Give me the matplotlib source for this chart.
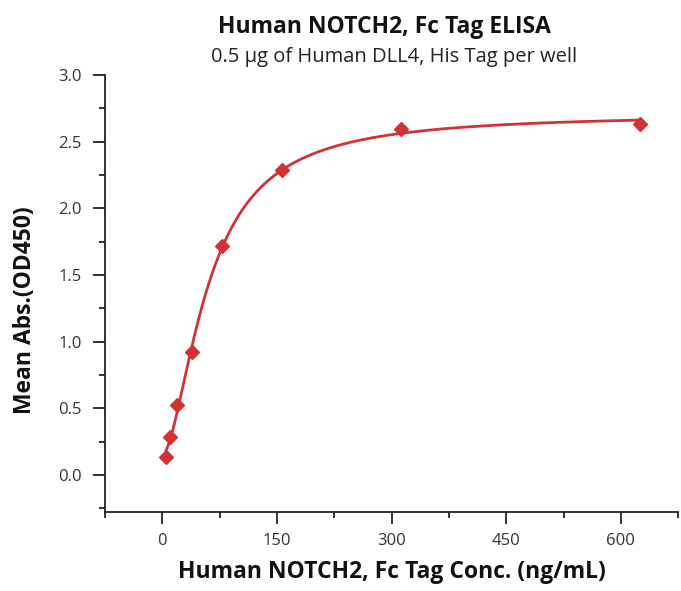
import numpy as np
import matplotlib
matplotlib.use("Agg")
import matplotlib.pyplot as plt
from matplotlib.ticker import MultipleLocator

title = "Human NOTCH2, Fc Tag ELISA"
subtitle = "0.5 \u03bcg of Human DLL4, His Tag per well"
xlabel = "Human NOTCH2, Fc Tag Conc. (ng/mL)"
ylabel = "Mean Abs.(OD450)"

conc = np.array([4.88, 9.77, 19.53, 39.06, 78.13, 156.25, 312.5, 625.0])
od450 = np.array([0.135, 0.286, 0.524, 0.925, 1.715, 2.29, 2.595, 2.63])

xticks = [0, 150, 300, 450, 600]
yticks = [0.0, 0.5, 1.0, 1.5, 2.0, 2.5, 3.0]

# 4-parameter logistic fit (grid over EC50/hill, linear solve for bottom/top)
best = None
for c in np.linspace(20, 150, 261):
    for h in np.linspace(0.5, 3.0, 251):
        f = 1.0 / (1.0 + (c / conc) ** h)
        A = np.vstack([np.ones_like(f), f]).T
        coef, *_ = np.linalg.lstsq(A, od450, rcond=None)
        r = np.sum((A @ coef - od450) ** 2)
        if best is None or r < best[0]:
            best = (r, c, h, coef)
_, ec50, hill, (bot, span) = best
xf = np.linspace(conc.min(), conc.max(), 600)
yf = bot + span / (1.0 + (ec50 / xf) ** hill)

red = "#d03236"
fig = plt.figure(figsize=(6.81, 5.91), dpi=100)
ax = fig.add_axes([0.154, 0.134, 0.842, 0.739])
ax.plot(xf, yf, color=red, lw=2.0)
ax.plot(conc, od450, linestyle="none", marker="D", ms=7, color=red, mec=red)

ax.set_xlim(-75, 675)
ax.set_ylim(-0.275, 3.0)
ax.set_xticks(xticks)
ax.set_yticks(yticks)
ax.set_yticklabels([f"{v:.1f}" for v in yticks])
ax.xaxis.set_minor_locator(MultipleLocator(75))
ax.yaxis.set_minor_locator(MultipleLocator(0.25))
for s in ["top", "right"]:
    ax.spines[s].set_visible(False)
for s in ["left", "bottom"]:
    ax.spines[s].set_linewidth(1.3)
    ax.spines[s].set_color("#222222")
ax.tick_params(which="major", length=8.5, width=1.3, color="#222222",
               labelsize=12, labelcolor="#333333")
ax.tick_params(which="minor", length=4.3, width=1.3, color="#222222")
ax.tick_params(axis="y", which="major", pad=8)
ax.tick_params(axis="x", which="major", pad=6.5)

fam = ["Open Sans", "DejaVu Sans"]
for lab in ax.get_xticklabels() + ax.get_yticklabels():
    lab.set_family(fam)
ax.set_xlabel(xlabel, fontsize=16.5, fontweight="bold", family=fam, color="#111111")
ax.set_ylabel(ylabel, fontsize=16.5, fontweight="bold", family=fam, color="#111111")
ax.xaxis.set_label_coords(0.5, -0.152)
ax.xaxis.label.set_va("baseline")
ax.yaxis.set_label_coords(-0.1396, 0.461)
ax.yaxis.label.set_va("center")

fig.text(0.564, 0.944, title, ha="center", va="baseline", fontsize=16.5,
         fontweight="bold", family=fam, color="#111111")
fig.text(0.579, 0.895, subtitle, ha="center", va="baseline", fontsize=14.5,
         family=fam, color="#222222")

fig.savefig("out.png", dpi=100)
